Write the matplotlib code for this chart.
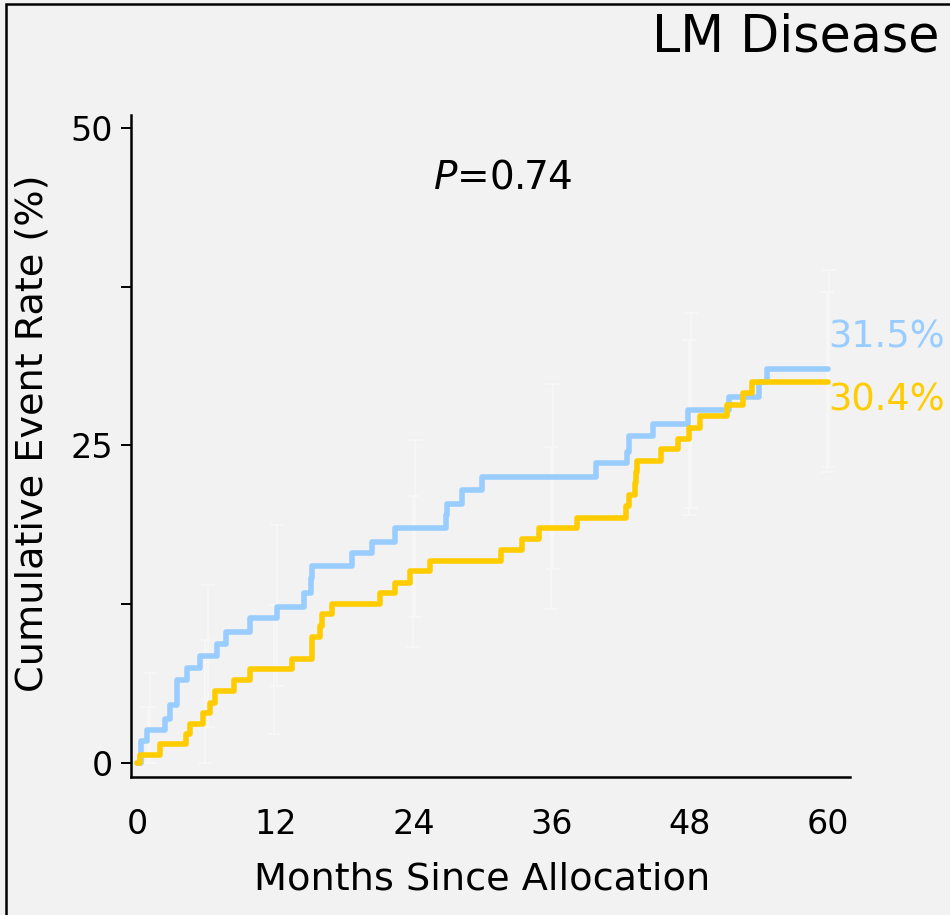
import matplotlib
matplotlib.use("Agg")
import matplotlib.pyplot as plt
from matplotlib.patches import Rectangle

# Kaplan-Meier style cumulative event curves (months, %)
blue_t = [0, 0.3, 0.8, 2.4, 2.8, 3.4, 4.3, 5.4, 6.9, 7.7, 9.8, 12.1, 14.5, 15.1,
          15.2, 18.6, 20.4, 22.4, 26.8, 26.9, 28.2, 29.9, 39.8, 42.5, 42.7,
          44.8, 47.8, 51.4, 54.0, 54.7, 60]
blue_v = [0, 1.7, 2.6, 3.5, 4.6, 6.5, 7.5, 8.4, 9.4, 10.3, 11.4, 12.3, 13.4,
          14.6, 15.5, 16.5, 17.4, 18.5, 19.5, 20.4, 21.5, 22.5, 23.6, 24.5,
          25.7, 26.7, 27.8, 28.8, 30.0, 31.0, 31.0]

yel_t = [0, 0.2, 2.0, 4.2, 4.6, 5.7, 6.3, 6.7, 8.4, 9.8, 13.4, 15.2, 15.9,
         16.0, 16.9, 21.1, 22.4, 23.7, 25.4, 31.6, 33.4, 34.9, 38.2, 42.4,
         42.7, 43.2, 43.3, 43.4, 45.5, 47.0, 47.9, 48.9, 51.2, 52.6, 53.4, 60]
yel_v = [0, 0.6, 1.5, 2.3, 3.1, 3.9, 4.7, 5.7, 6.5, 7.4, 8.2, 9.9, 10.8, 11.7,
         12.5, 13.4, 14.2, 15.1, 15.9, 16.8, 17.6, 18.5, 19.3, 20.2, 21.1,
         22.0, 22.9, 23.8, 24.7, 25.5, 26.4, 27.3, 28.2, 29.1, 30.0, 30.0]

# confidence intervals at landmark times
ci_t = [1, 6, 12, 24, 36, 48, 60]
blue_lo = [0, 2.8, 6.1, 11.5, 15.3, 20.1, 23.3]
blue_hi = [7.1, 14.0, 18.7, 25.4, 29.8, 35.4, 38.8]
yel_lo = [0, 0, 2.3, 9.1, 12.1, 19.5, 22.9]
yel_hi = [4.4, 9.7, 12.4, 21.0, 24.9, 33.3, 37.1]

x_ticks = [0, 12, 24, 36, 48, 60]
y_ticks = [0, 12.5, 25, 37.5, 50]
y_ticklabels = ["0", "", "25", "", "50"]

title = "LM Disease"
p_text = r"$P$=0.74"
blue_end = "31.5%"
yel_end = "30.4%"

BLUE = "#99ccff"
YELLOW = "#ffcc00"
BG = "#f2f2f2"

plt.rcParams.update({
    "font.family": ["DejaVu Sans"],
    "mathtext.fontset": "dejavusans",
})

fig = plt.figure(figsize=(9.5, 9.15), dpi=100, facecolor=BG)
ax = fig.add_axes([131 / 950, 138 / 915, 719 / 950, 662 / 915])
ax.set_facecolor(BG)

# faint CI bars behind the curves
for ts, lo, hi, dx in [(ci_t, blue_lo, blue_hi, 0.1), (ci_t, yel_lo, yel_hi, -0.1)]:
    for t, l, h in zip(ts, lo, hi):
        ax.vlines(t + dx, l, h, color="#f8f8f8", lw=1.2, zorder=1)
        ax.hlines([l, h], t + dx - 0.6, t + dx + 0.6, color="#f8f8f8",
                  lw=1.2, zorder=1)

ax.step(blue_t, blue_v, where="post", color=BLUE, lw=4.0, zorder=3,
        solid_capstyle="round")
ax.step(yel_t, yel_v, where="post", color=YELLOW, lw=4.0, zorder=4,
        solid_capstyle="round")

ax.set_xlim(-0.56, 61.9)
ax.set_ylim(-1.1, 51.0)

ax.set_xticks(x_ticks)
ax.set_xticklabels([str(x) for x in x_ticks], fontsize=24)
ax.tick_params(axis="x", length=0, pad=22)
ax.set_xticks([0], minor=True)
ax.tick_params(axis="x", which="minor", length=9, width=1.6, direction="out")

ax.set_yticks(y_ticks)
ax.set_yticklabels(y_ticklabels, fontsize=24)
ax.tick_params(axis="y", length=7, width=1.4, direction="out", pad=6)

for side in ["top", "right"]:
    ax.spines[side].set_visible(False)
for side in ["left", "bottom"]:
    ax.spines[side].set_linewidth(1.8)

ax.set_xlabel("Months Since Allocation", fontsize=27.5)
ax.xaxis.set_label_coords(0.488, -0.128)
ax.set_ylabel("Cumulative Event Rate (%)", fontsize=27.5)
ax.yaxis.set_label_coords(-0.112, 0.52)

ax.text(31.75, 46.1, p_text, fontsize=28, ha="center", va="center")
ax.text(60.0, 33.5, blue_end, fontsize=26.5, color=BLUE, ha="left",
        va="center", clip_on=False)
ax.text(60.0, 28.6, yel_end, fontsize=26.5, color=YELLOW, ha="left",
        va="center", clip_on=False)

fig.text(940 / 950, 1 - 38 / 915, title, fontsize=36.5, ha="right",
         va="center")

# outer frame, right and bottom edges run off the canvas
fig.patches.append(Rectangle((6 / 950, -0.1), 1.2, 1.1 - 4 / 915,
                             transform=fig.transFigure, fill=False,
                             edgecolor="black", lw=1.8))

fig.savefig("out.png", dpi=100, facecolor=BG)
